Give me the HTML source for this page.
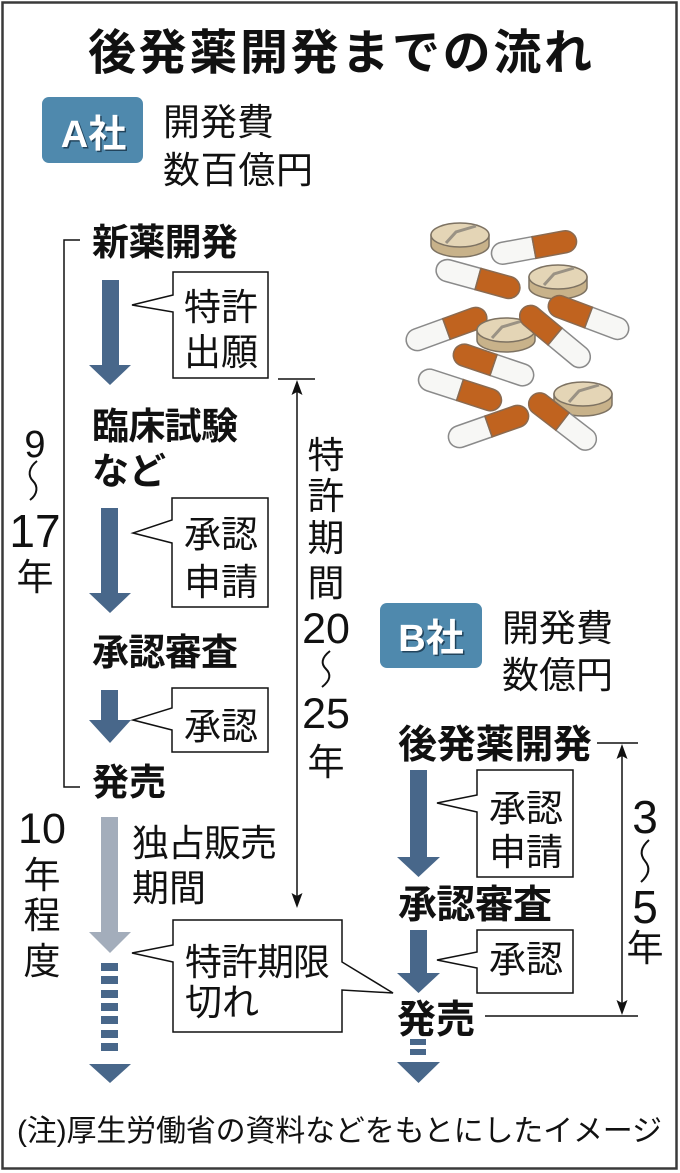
<!DOCTYPE html>
<html><head><meta charset="utf-8"><style>
html,body{margin:0;padding:0;background:#fff;}
svg{display:block;}
text{font-family:"Liberation Sans","Noto Sans CJK JP",sans-serif;fill:#111;}
.b{font-weight:700;}
</style></head><body>
<svg width="680" height="1173" viewBox="0 0 680 1173" xmlns="http://www.w3.org/2000/svg">
<rect x="0" y="0" width="680" height="1173" fill="#fff"/>
<rect x="2.5" y="2.5" width="674" height="1166" fill="#fff" stroke="#3a3a3a" stroke-width="2.5"/>

<!-- Title -->
<text class="b" x="88" y="69" font-size="48" textLength="504" lengthAdjust="spacing">後発薬開発までの流れ</text>

<!-- A badge -->
<rect x="42" y="97" width="101" height="66" rx="7" fill="#4f89ad"/>
<text class="b" x="95" y="148.5" font-size="38" text-anchor="middle" style="fill:#22445c">A社</text>
<text class="b" x="93.5" y="147" font-size="38" text-anchor="middle" style="fill:#fff">A社</text>
<text x="163" y="135" font-size="37">開発費</text>
<text x="163" y="183" font-size="37" textLength="150" lengthAdjust="spacing">数百億円</text>

<!-- bracket -->
<path d="M80,240 H64 V787 H80" fill="none" stroke="#111" stroke-width="1.5"/>

<!-- A flow -->
<text class="b" x="92" y="255" font-size="37" textLength="146" lengthAdjust="spacing">新薬開発</text>
<path d="M102,280 V365 H89 L110,385 L131,365 H119 V280 Z" fill="#48678a"/>
<path d="M173,272 H268 V378 H173 V312 L132,305 L173,295 Z" fill="#fff" stroke="#111" stroke-width="1.5"/>
<text x="184" y="320" font-size="37">特許</text>
<text x="184" y="365" font-size="37">出願</text>

<text class="b" x="92" y="439" font-size="37" textLength="146" lengthAdjust="spacing">臨床試験</text>
<text class="b" x="92" y="484" font-size="37">など</text>
<path d="M101,508 V593 H89 L110,613 L131,593 H118 V508 Z" fill="#48678a"/>
<path d="M172,498 H268 V607 H172 V543 L133,533 L172,520 Z" fill="#fff" stroke="#111" stroke-width="1.5"/>
<text x="184" y="547" font-size="37">承認</text>
<text x="184" y="595" font-size="37">申請</text>

<text class="b" x="92" y="665" font-size="37" textLength="146" lengthAdjust="spacing">承認審査</text>
<path d="M101,690 V720 H89 L110,743 L131,720 H118 V690 Z" fill="#48678a"/>
<path d="M172,688 H268 V752 H172 V730 L133,720 L172,708 Z" fill="#fff" stroke="#111" stroke-width="1.5"/>
<text x="184" y="739" font-size="37">承認</text>

<text class="b" x="92" y="795" font-size="37">発売</text>

<!-- 9~17年 -->
<text x="35" y="457" font-size="38" text-anchor="middle">9</text>
<path d="M37,461 C28,468 28,476 33,481 C38,486 38,494 30,500" fill="none" stroke="#111" stroke-width="2"/>
<text x="35" y="547" font-size="46" text-anchor="middle">17</text>
<text x="35" y="590" font-size="37" text-anchor="middle">年</text>

<!-- patent period -->
<path d="M278,379 H315" stroke="#111" stroke-width="1.5"/>
<path d="M297,388 V900" stroke="#111" stroke-width="1.5"/>
<path d="M297,380 L291.5,395 L297,392 L302.5,395 Z" fill="#111"/>
<path d="M297,908 L291.5,893 L297,896 L302.5,893 Z" fill="#111"/>
<text x="326" y="468" font-size="37" text-anchor="middle">特</text>
<text x="326" y="509" font-size="37" text-anchor="middle">許</text>
<text x="326" y="551" font-size="37" text-anchor="middle">期</text>
<text x="326" y="596" font-size="37" text-anchor="middle">間</text>
<text x="326" y="643" font-size="43" text-anchor="middle">20</text>
<path d="M330,651 C321,658 321,664 326,669 C331,674 331,680 322,687" fill="none" stroke="#111" stroke-width="2"/>
<text x="326" y="728" font-size="43" text-anchor="middle">25</text>
<text x="326" y="775" font-size="37" text-anchor="middle">年</text>

<!-- 10年程度 -->
<text x="42" y="843" font-size="43" text-anchor="middle">10</text>
<text x="42" y="888" font-size="37" text-anchor="middle">年</text>
<text x="42" y="928" font-size="37" text-anchor="middle">程</text>
<text x="42" y="974" font-size="37" text-anchor="middle">度</text>

<!-- exclusive period arrow -->
<path d="M101,817 V932 H89 L110,953 L131,932 H118 V817 Z" fill="#a3adbb"/>
<text x="132" y="856" font-size="37" textLength="145" lengthAdjust="spacing">独占販売</text>
<text x="132" y="901" font-size="37">期間</text>

<!-- dashed arrow A -->
<g fill="#48678a">
<rect x="101" y="963" width="17" height="8"/>
<rect x="101" y="976" width="17" height="8"/>
<rect x="101" y="990" width="17" height="8"/>
<rect x="101" y="1003" width="17" height="8"/>
<rect x="101" y="1016" width="17" height="8"/>
<rect x="101" y="1030" width="17" height="8"/>
<rect x="101" y="1043" width="17" height="8"/>
<path d="M89,1064 L131,1064 L110,1083 Z"/>
</g>

<!-- patent expiry callout -->
<path d="M173,920 H342 V962 L393,993 L342,990 V1032 H173 V962 L132,953 L173,945 Z" fill="#fff" stroke="#111" stroke-width="1.5"/>
<text x="185" y="975" font-size="37" textLength="145" lengthAdjust="spacing">特許期限</text>
<text x="185" y="1015" font-size="37">切れ</text>

<!-- B badge -->
<rect x="380" y="603" width="102" height="65" rx="7" fill="#4f89ad"/>
<text class="b" x="432.5" y="652.5" font-size="38" text-anchor="middle" style="fill:#22445c">B社</text>
<text class="b" x="431" y="651" font-size="38" text-anchor="middle" style="fill:#fff">B社</text>
<text x="502" y="641" font-size="37">開発費</text>
<text x="502" y="688" font-size="37">数億円</text>

<!-- B flow -->
<text class="b" x="398" y="758" font-size="39" textLength="194" lengthAdjust="spacing">後発薬開発</text>
<path d="M410,770 V857 H397 L418.5,877 L440,857 H427 V770 Z" fill="#48678a"/>
<path d="M477,770 H573 V877 H477 V812 L437,803 L477,795 Z" fill="#fff" stroke="#111" stroke-width="1.5"/>
<text x="489" y="821" font-size="37">承認</text>
<text x="489" y="865" font-size="37">申請</text>

<text class="b" x="398" y="918" font-size="39" textLength="154" lengthAdjust="spacing">承認審査</text>
<path d="M410,930 V973 H397 L418.5,993 L440,973 H427 V930 Z" fill="#48678a"/>
<path d="M477,930 H573 V993 H477 V968 L437,960 L477,952 Z" fill="#fff" stroke="#111" stroke-width="1.5"/>
<text x="489" y="972" font-size="37">承認</text>

<text class="b" x="397" y="1033" font-size="39">発売</text>
<g fill="#48678a">
<rect x="410" y="1039" width="16" height="6"/>
<rect x="410" y="1049" width="16" height="6"/>
<path d="M397,1062 L440,1062 L418.5,1083 Z"/>
</g>

<!-- 3~5年 -->
<path d="M597,743 H638" stroke="#111" stroke-width="1.5"/>
<path d="M485,1016 H638" stroke="#111" stroke-width="1.5"/>
<path d="M622,752 V1007" stroke="#111" stroke-width="1.5"/>
<path d="M622,744 L616.5,759 L622,756 L627.5,759 Z" fill="#111"/>
<path d="M622,1015 L616.5,1000 L622,1003 L627.5,1000 Z" fill="#111"/>
<text x="645" y="833" font-size="46" text-anchor="middle">3</text>
<path d="M649,840 C640,848 640,855 645,861 C650,867 650,874 641,882" fill="none" stroke="#111" stroke-width="2"/>
<text x="645" y="923" font-size="46" text-anchor="middle">5</text>
<text x="645" y="961" font-size="37" text-anchor="middle">年</text>

<!-- footnote -->
<text x="17" y="1141" font-size="30" textLength="645" lengthAdjust="spacing">(注)厚生労働省の資料などをもとにしたイメージ</text>

<!-- pills illustration -->
<defs>
<g id="cap">
<path d="M0,-11 H-30 A11,11 0 0 0 -30,11 H0 Z" fill="#f7f7f5" stroke="#8a8a8a" stroke-width="1.5"/>
<path d="M0,-11 H30 A11,11 0 0 1 30,11 H0 Z" fill="#c0631f" stroke="#8a6a50" stroke-width="1.5"/>
</g>
<g id="tab">
<path d="M-29,0 V10 A29,12 0 0 0 29,10 V0 Z" fill="#c8b28a" stroke="#7d7262" stroke-width="1.5"/>
<ellipse cx="0" cy="0" rx="29" ry="12" fill="#e4d5b6" stroke="#7d7262" stroke-width="1.5"/>
<path d="M-14,8 L-4,-3 L16,-9" fill="none" stroke="#9a9284" stroke-width="3"/>
</g>
</defs>
<use href="#tab" x="460" y="235"/>
<g transform="translate(534,247.5) rotate(-10.4) scale(1.05,1)"><use href="#cap"/></g>
<g transform="translate(478,279) rotate(15.4) scale(1.05,1)"><use href="#cap"/></g>
<use href="#tab" x="558" y="277"/>
<g transform="translate(588.5,317.5) rotate(200.6) scale(1.03,1)"><use href="#cap"/></g>
<g transform="translate(446.5,329) rotate(-20) scale(1.03,1)"><use href="#cap"/></g>
<use href="#tab" x="506" y="330"/>
<g transform="translate(555,336.5) rotate(219.6) scale(1.04,1)"><use href="#cap"/></g>
<g transform="translate(493.5,365) rotate(198.7) scale(1.02,1)"><use href="#cap"/></g>
<g transform="translate(460,390) rotate(18) scale(1.05,1)"><use href="#cap"/></g>
<use href="#tab" x="583" y="394"/>
<g transform="translate(488.5,426.5) rotate(-19.3) scale(1.02,1)"><use href="#cap"/></g>
<g transform="translate(562.5,421.5) rotate(217.6) scale(0.97,1)"><use href="#cap"/></g>
</svg>
</body></html>
